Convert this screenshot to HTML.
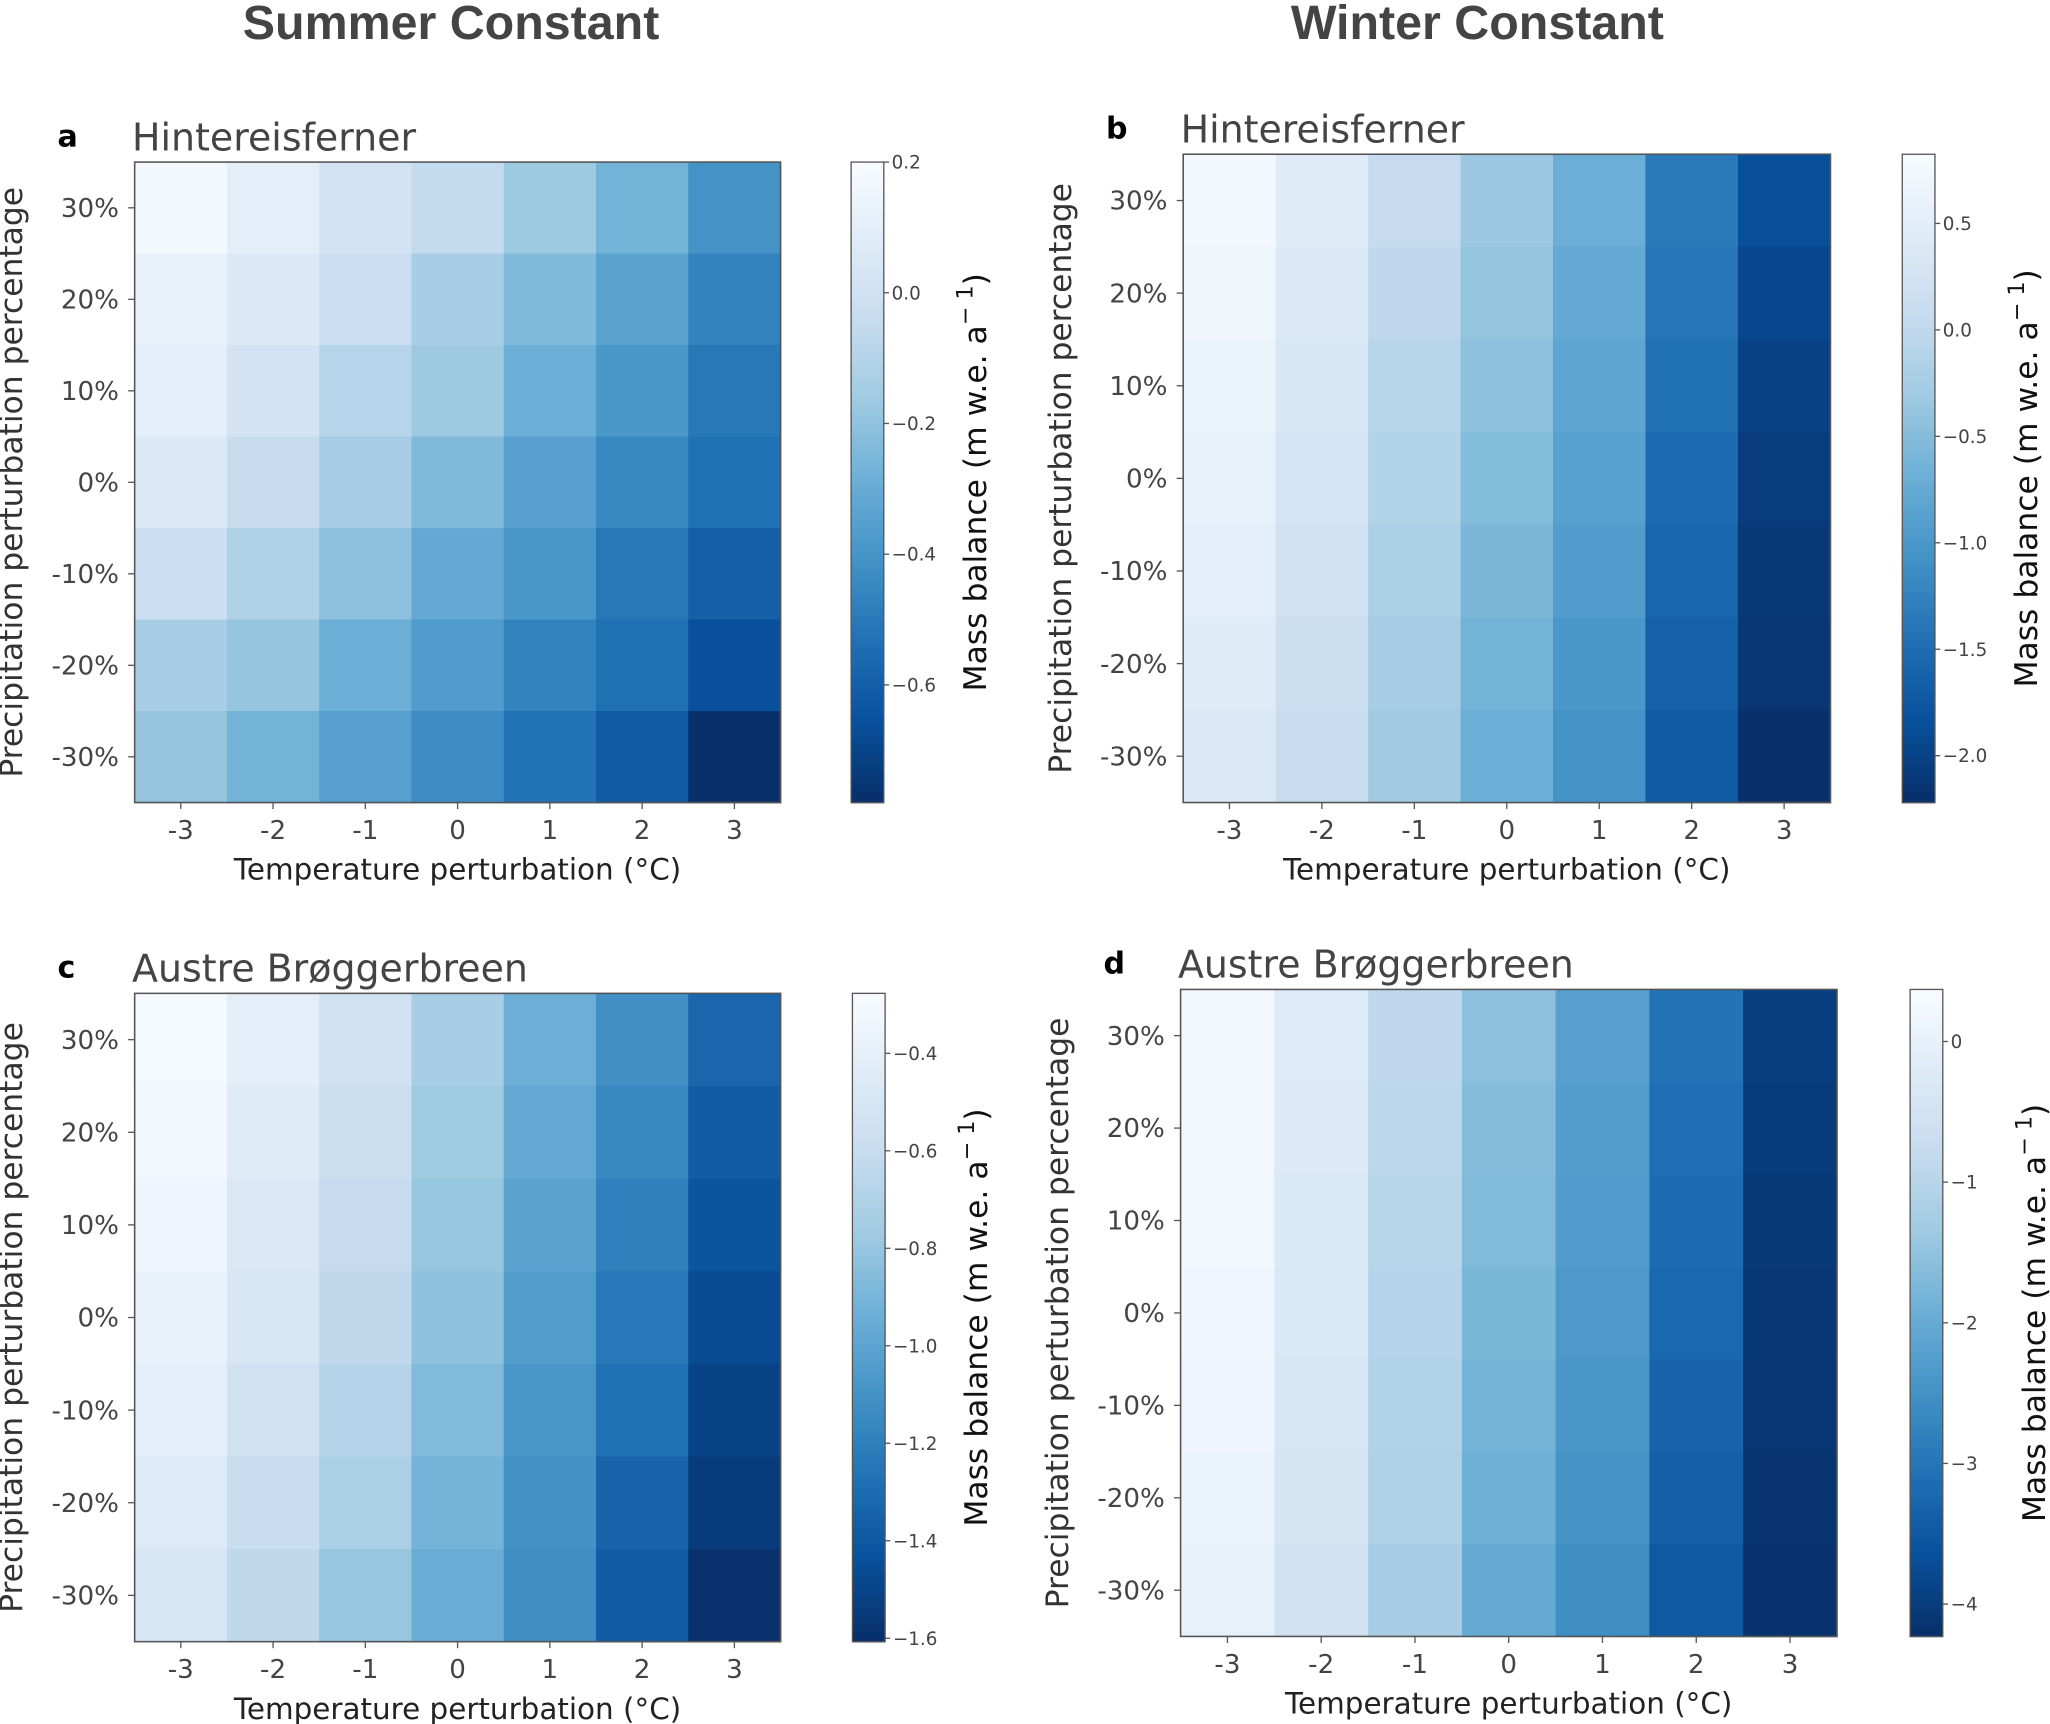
<!DOCTYPE html>
<html><head><meta charset="utf-8"><style>
html,body{margin:0;padding:0;background:#fff}
svg{display:block}
text{font-family:"DejaVu Sans","Liberation Sans",sans-serif}
</style></head><body>
<svg id="fig" width="2050" height="1724" viewBox="0 0 1568 1319" preserveAspectRatio="none">
<text x="345" y="30" text-anchor="middle" font-size="37" font-weight="bold" fill="#444" style="font-family:'Liberation Sans',sans-serif">Summer Constant</text>
<text x="1130" y="30" text-anchor="middle" font-size="37" font-weight="bold" fill="#444" style="font-family:'Liberation Sans',sans-serif">Winter Constant</text>
</svg>
<script>
const temps = ["-3","-2","-1","0","1","2","3"];
const precips = ["30%","20%","10%","0%","-10%","-20%","-30%"];
const dataA = [
[0.18,0.10,0.02,-0.05,-0.17,-0.27,-0.41],
[0.13,0.06,-0.02,-0.14,-0.24,-0.34,-0.47],
[0.10,0.02,-0.09,-0.17,-0.29,-0.39,-0.51],
[0.06,-0.04,-0.14,-0.24,-0.35,-0.45,-0.54],
[-0.02,-0.12,-0.21,-0.31,-0.39,-0.51,-0.60],
[-0.14,-0.19,-0.29,-0.37,-0.47,-0.54,-0.66],
[-0.19,-0.27,-0.35,-0.43,-0.53,-0.62,-0.78]];
const dataB = [
[0.76,0.46,0.06,-0.33,-0.70,-1.35,-1.86],
[0.70,0.40,0.00,-0.39,-0.76,-1.41,-1.95],
[0.64,0.34,-0.06,-0.45,-0.82,-1.47,-2.02],
[0.58,0.28,-0.12,-0.51,-0.88,-1.53,-2.08],
[0.52,0.22,-0.18,-0.57,-0.94,-1.59,-2.12],
[0.46,0.16,-0.24,-0.63,-1.00,-1.65,-2.16],
[0.40,0.10,-0.30,-0.69,-1.06,-1.71,-2.21]];
const dataC = [
[-0.30,-0.41,-0.54,-0.74,-0.94,-1.12,-1.33],
[-0.32,-0.44,-0.58,-0.77,-0.98,-1.16,-1.38],
[-0.34,-0.47,-0.61,-0.80,-1.01,-1.20,-1.42],
[-0.37,-0.50,-0.64,-0.83,-1.04,-1.24,-1.47],
[-0.41,-0.54,-0.68,-0.87,-1.08,-1.28,-1.51],
[-0.45,-0.59,-0.72,-0.91,-1.11,-1.34,-1.55],
[-0.50,-0.64,-0.80,-0.95,-1.13,-1.38,-1.60]];
const dataD = [
[0.28,-0.23,-0.87,-1.56,-2.21,-3.05,-3.98],
[0.27,-0.26,-0.92,-1.62,-2.26,-3.11,-4.03],
[0.24,-0.29,-0.97,-1.68,-2.30,-3.17,-4.07],
[0.20,-0.33,-1.02,-1.75,-2.35,-3.24,-4.10],
[0.16,-0.38,-1.07,-1.82,-2.40,-3.31,-4.13],
[0.11,-0.43,-1.13,-1.88,-2.46,-3.39,-4.16],
[0.00,-0.55,-1.24,-2.02,-2.57,-3.51,-4.20]];
const rangeA = [0.2,-0.78], rangeB = [0.825,-2.22], rangeC = [-0.277,-1.607], rangeD = [0.37,-4.23];
const cbTicksA = ["0.2","0.0","\u22120.2","\u22120.4","\u22120.6"];
const cbTickValsA = [0.2,0,-0.2,-0.4,-0.6];
const cbTicksB = ["0.5","0.0","\u22120.5","\u22121.0","\u22121.5","\u22122.0"];
const cbTickValsB = [0.5,0,-0.5,-1.0,-1.5,-2.0];
const cbTicksC = ["\u22120.4","\u22120.6","\u22120.8","\u22121.0","\u22121.2","\u22121.4","\u22121.6"];
const cbTickValsC = [-0.4,-0.6,-0.8,-1.0,-1.2,-1.4,-1.6];
const cbTicksD = ["0","\u22121","\u22122","\u22123","\u22124"];
const cbTickValsD = [0,-1,-2,-3,-4];

const blues = ["#f7fbff","#deebf7","#c6dbef","#9ecae1","#6baed6","#4292c6","#2171b5","#08519c","#08306b"];
function hex(h){return [1,3,5].map(i=>parseInt(h.substr(i,2),16));}
function cmap(t){t=Math.max(0,Math.min(1,t));const p=t*8;const i=Math.min(7,Math.floor(p));const f=p-i;
const a=hex(blues[i]),b=hex(blues[i+1]);return "rgb("+a.map((v,k)=>Math.round(v+(b[k]-v)*f)).join(",")+")";}
const NS="http://www.w3.org/2000/svg";
const svg=document.getElementById('fig');
function el(tag,attrs,parent,txt){const e=document.createElementNS(NS,tag);for(const k in attrs)e.setAttribute(k,attrs[k]);if(txt!==undefined)e.textContent=txt;(parent||svg).appendChild(e);return e;}

function panel(id,letter,title,data,range,ticks,tickVals,box,cb){
  const g=el('g',{});
  
  
  const [x0,y0,x1,y1]=box;const cw=(x1-x0)/7,ch=(y1-y0)/7;
  const xs=i=>x0+cw*(i+0.5), ys=j=>y0+ch*(j+0.5);
  const norm=v=>(range[0]-v)/(range[0]-range[1]);
  for(let j=0;j<7;j++)for(let i=0;i<7;i++){
    const r=el('rect',{x:xs(i)-cw/2,y:ys(j)-ch/2,width:cw+0.6,height:ch+0.6,fill:cmap(norm(data[j][i]))},g);
    
    
  }
  el('rect',{x:x0,y:y0,width:x1-x0,height:y1-y0,fill:'none',stroke:'#555','stroke-width':1.2},g);
  for(let i=0;i<7;i++){
    el('line',{x1:xs(i),x2:xs(i),y1:y1,y2:y1+5,stroke:'#555'},g);
    const t=el('text',{x:xs(i),y:y1+28,'text-anchor':'middle','font-size':20,fill:'#444'},g,temps[i]);
    
    
  }
  for(let j=0;j<7;j++){
    el('line',{x1:x0-5,x2:x0,y1:ys(j),y2:ys(j),stroke:'#555'},g);
    const t=el('text',{x:x0-12,y:ys(j)+7,'text-anchor':'end','font-size':20,fill:'#444'},g,precips[j]);
    
    
  }
  const xl=el('text',{x:(x0+x1)/2,y:y1+59,'text-anchor':'middle','font-size':22.5,fill:'#222'},g,'Temperature perturbation (\u00b0C)');
  
  
  const yx=x0-86, yc=(y0+y1)/2;
  const yl=el('text',{x:yx,y:yc,'text-anchor':'middle','font-size':24,fill:'#333',transform:'rotate(-90 '+yx+' '+yc+')'},g,'Precipitation perturbation percentage');
  
  
  const tt=el('text',{x:x0-2,y:y0-9,'font-size':29,fill:'#444'},g,title);
  
  
  const lt=el('text',{x:x0-59,y:y0-12,'font-size':23,'font-weight':'bold',fill:'#000'},g,letter);
  
  
  const [cx,cw2]=cb;const N=120;
  for(let k=0;k<N;k++){
    el('rect',{x:cx,y:y0+(y1-y0)*k/N,width:cw2,height:(y1-y0)/N+0.6,fill:cmap(k/(N-1))},g);
  }
  const cbf=el('rect',{x:cx,y:y0,width:cw2,height:y1-y0,fill:'none',stroke:'#555','stroke-width':1},g);
  
  
  for(let k=0;k<ticks.length;k++){
    const yy=y0+(y1-y0)*norm(tickVals[k]);
    el('line',{x1:cx+cw2,x2:cx+cw2+4,y1:yy,y2:yy,stroke:'#555'},g);
    const t=el('text',{x:cx+cw2+6,y:yy+5,'font-size':14,fill:'#444'},g,ticks[k]);
    
    
  }
  const lx=cx+cw2+78;
  const cl=el('text',{x:lx,y:yc,'text-anchor':'middle','font-size':24,fill:'#111',transform:'rotate(-90 '+lx+' '+yc+')'},g);
  
  
  el('tspan',{},cl,'Mass balance (m w.e. a');
  el('tspan',{dy:-10,'font-size':17},cl,'\u2212 1');
  el('tspan',{dy:10},cl,')');
}
panel('a','a','Hintereisferner',dataA,rangeA,cbTicksA,cbTickValsA,[103,124,597,614],[651,25]);
panel('b','b','Hintereisferner',dataB,rangeB,cbTicksB,cbTickValsB,[905,118,1400,614],[1455,25]);
panel('c','c','Austre Br\u00f8ggerbreen',dataC,rangeC,cbTicksC,cbTickValsC,[103,760,597,1256],[652,25]);
panel('d','d','Austre Br\u00f8ggerbreen',dataD,rangeD,cbTicksD,cbTickValsD,[903,757,1405,1252],[1461,25]);
</script>
</body></html>
